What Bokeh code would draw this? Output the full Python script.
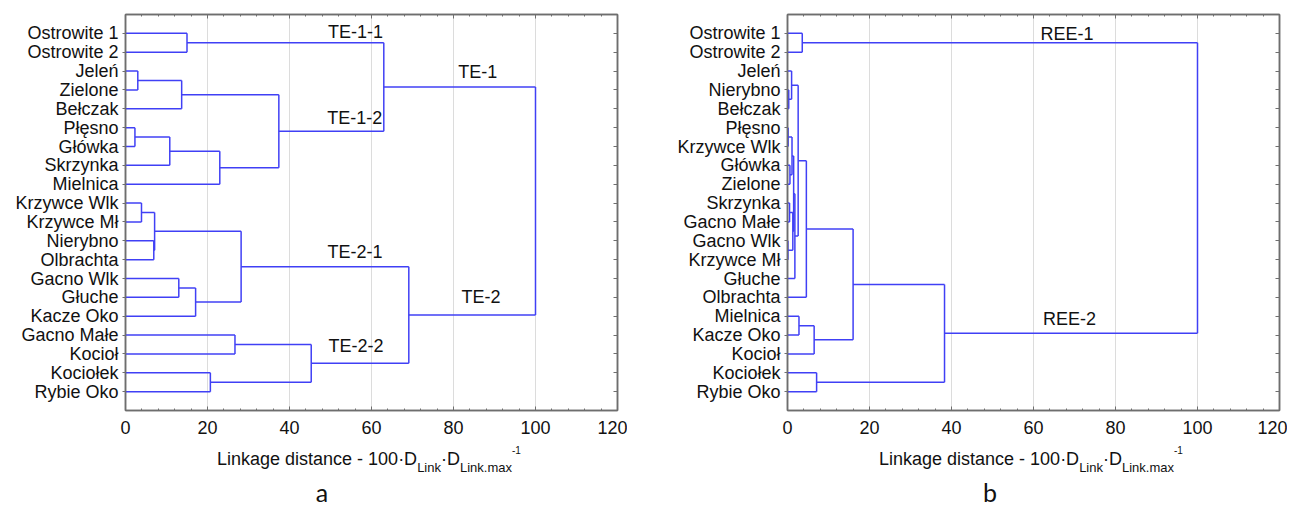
from bokeh.plotting import figure
from bokeh.models import (Range1d, LinearAxis, FixedTicker, SingleIntervalTicker, Grid,
                          ColumnDataSource, CustomJSTickFormatter, Div)
from bokeh.layouts import row, column
from bokeh.core.properties import value
from bokeh.embed import file_html
from bokeh.resources import INLINE

# ---------------- data ----------------
leaves_a = ["Ostrowite 1", "Ostrowite 2", "Jeleń", "Zielone", "Bełczak", "Płęsno", "Główka",
            "Skrzynka", "Mielnica", "Krzywce Wlk", "Krzywce Mł", "Nierybno", "Olbrachta",
            "Gacno Wlk", "Głuche", "Kacze Oko", "Gacno Małe", "Kocioł", "Kociołek", "Rybie Oko"]
# linkage: cluster ids 0..19 = leaves, 20.. = merges in order
link_a_left = [0, 2, 21, 5, 23, 24, 22, 20, 9, 11, 28, 13, 31, 30, 16, 18, 34, 33, 27]
link_a_right = [1, 3, 4, 6, 7, 8, 25, 26, 10, 12, 29, 14, 15, 32, 17, 19, 35, 36, 37]
link_a_height = [15.0, 3.0, 13.7, 2.3, 10.8, 23.0, 37.4, 63.0, 3.9, 6.9, 7.1, 13.0, 17.1,
                 28.2, 26.7, 20.7, 45.3, 69.1, 100.0]
labels_a = ["TE-1-1", "TE-1-2", "TE-1", "TE-2-1", "TE-2", "TE-2-2"]
labels_a_x = [56.1, 55.9, 85.9, 56.0, 86.7, 56.2]
labels_a_y = [0.94, 5.51, 3.07, 12.6, 14.99, 17.6]

leaves_b = ["Ostrowite 1", "Ostrowite 2", "Jeleń", "Nierybno", "Bełczak", "Płęsno", "Krzywce Wlk",
            "Główka", "Zielone", "Skrzynka", "Gacno Małe", "Gacno Wlk", "Krzywce Mł", "Głuche",
            "Olbrachta", "Mielnica", "Kacze Oko", "Kocioł", "Kociołek", "Rybie Oko"]
link_b_left = [0, 3, 2, 5, 7, 23, 9, 11, 26, 25, 29, 22, 31, 15, 33, 32, 18, 35, 20]
link_b_right = [1, 4, 21, 6, 8, 24, 10, 12, 27, 28, 13, 30, 14, 16, 17, 34, 19, 36, 37]
link_b_height = [3.6, 0.3, 1.0, 0.15, 0.6, 1.1, 0.5, 0.1, 1.3, 1.5, 1.8, 2.6, 4.6, 2.8, 6.5,
                 16.0, 7.1, 38.3, 100.0]
labels_b = ["REE-1", "REE-2"]
labels_b_x = [68.2, 68.8]
labels_b_y = [1.02, 16.13]

x_ticks_major = 20
x_max = 120

# ---------------- style ----------------
FONT = "Liberation Sans"
LINE = "#4040f5"
AXIS = "#6e6e6e"
TXT = "#111111"
FRAME_W = 492
FRAME_H = 396
TOP_B = 14
FIG_H = 445


def dendro(n, left, right, height):
    pos = {i: i + 1 for i in range(n)}
    h = {i: 0.0 for i in range(n)}
    x0, y0, x1, y1 = [], [], [], []
    for k, (a, b, d) in enumerate(zip(left, right, height)):
        for c in (a, b):
            x0.append(h[c]); x1.append(d); y0.append(pos[c]); y1.append(pos[c])
        x0.append(d); x1.append(d); y0.append(pos[a]); y1.append(pos[b])
        pos[n + k] = (pos[a] + pos[b]) / 2.0
        h[n + k] = d
    return dict(x0=x0, y0=y0, x1=x1, y1=y1)


def panel(leaves, left, right, height, labs, lx, ly, width, bl, br):
    n = len(leaves)
    p = figure(width=width, height=FIG_H, x_range=Range1d(0, x_max),
               y_range=Range1d(n + 1, 0), output_backend="svg", toolbar_location=None,
               x_axis_location=None, y_axis_location=None,
               min_border_left=bl, min_border_right=br, min_border_top=TOP_B,
               min_border_bottom=FIG_H - TOP_B - FRAME_H)
    p.center = [c for c in p.center if not isinstance(c, Grid)]
    p.outline_line_color = AXIS
    p.outline_line_width = 1.5
    p.background_fill_color = "white"
    p.border_fill_color = "white"

    xt = SingleIntervalTicker(interval=x_ticks_major, num_minor_ticks=5)
    p.add_layout(Grid(dimension=0, ticker=xt, grid_line_color="#dcdcdc", grid_line_width=1))

    bottom = LinearAxis(ticker=xt, major_tick_in=4, major_tick_out=0, minor_tick_in=2,
                        minor_tick_out=0, axis_line_color=AXIS, axis_line_width=1.5,
                        major_tick_line_color=AXIS, minor_tick_line_color=AXIS,
                        major_label_text_font=FONT, major_label_text_font_size="18px",
                        major_label_text_color=TXT, major_label_standoff=10)
    p.add_layout(bottom, "below")
    top = LinearAxis(ticker=xt, major_tick_in=4, major_tick_out=0, minor_tick_in=2,
                     minor_tick_out=0, axis_line_color=AXIS, axis_line_width=1.5,
                     major_tick_line_color=AXIS, minor_tick_line_color=AXIS,
                     formatter=CustomJSTickFormatter(code="return ''"),
                     major_label_text_font_size="1px", major_label_standoff=0)
    p.add_layout(top, "above")

    rows = list(range(1, n + 1))
    yt = FixedTicker(ticks=rows, minor_ticks=[])
    leftax = LinearAxis(ticker=yt, major_tick_in=0, major_tick_out=3, axis_line_color=AXIS,
                        axis_line_width=1.5, major_tick_line_color=AXIS,
                        major_label_overrides={r: name for r, name in zip(rows, leaves)},
                        major_label_text_font=FONT, major_label_text_font_size="18px",
                        major_label_text_color=TXT, major_label_standoff=4)
    p.add_layout(leftax, "left")
    rightax = LinearAxis(ticker=yt, major_tick_in=4, major_tick_out=0, axis_line_color=AXIS,
                         axis_line_width=1.5, major_tick_line_color=AXIS,
                         formatter=CustomJSTickFormatter(code="return ''"),
                         major_label_text_font_size="1px", major_label_standoff=0)
    p.add_layout(rightax, "right")

    src = ColumnDataSource(dendro(n, left, right, height))
    p.segment("x0", "y0", "x1", "y1", source=src, line_color=LINE, line_width=1.5)

    lsrc = ColumnDataSource(dict(x=lx, y=ly, t=labs))
    p.text("x", "y", text="t", source=lsrc, text_font=value(FONT), text_font_size="18px",
           text_align="center", text_baseline="middle", text_color=TXT)
    return p


def caption(letter, width, label_left, letter_left):
    sub = "position:relative; top:7px; font-size:13px;"
    sup = "position:relative; top:-11px; font-size:10px;"
    html = (
        f'<div style="font-family:\'{FONT}\'; font-size:18px; line-height:18px; color:{TXT}; '
        f'white-space:nowrap; margin:5px 0 0 {label_left}px;">'
        f'Linkage distance - 100·D<span style="{sub}">Link</span>·D'
        f'<span style="{sub}">Link.max</span><span style="{sup}">-1</span></div>'
        f'<div style="font-family:Lato; font-size:25px; line-height:25px; color:{TXT}; '
        f'width:100px; text-align:center; margin:9px 0 0 {letter_left}px;">{letter}</div>'
    )
    return Div(text=html, width=width, height=508 - FIG_H, margin=0)


pa = panel(leaves_a, link_a_left, link_a_right, link_a_height, labels_a, labels_a_x, labels_a_y,
           627, 125, 10)
pb = panel(leaves_b, link_b_left, link_b_right, link_b_height, labels_b, labels_b_x, labels_b_y,
           660, 160, 8)
ca = caption("a", 627, 217, 272)
cb = caption("b", 660, 252, 313)

layout = column(row(pa, pb), row(ca, cb))
open("out.html", "w").write(file_html(layout, INLINE))
